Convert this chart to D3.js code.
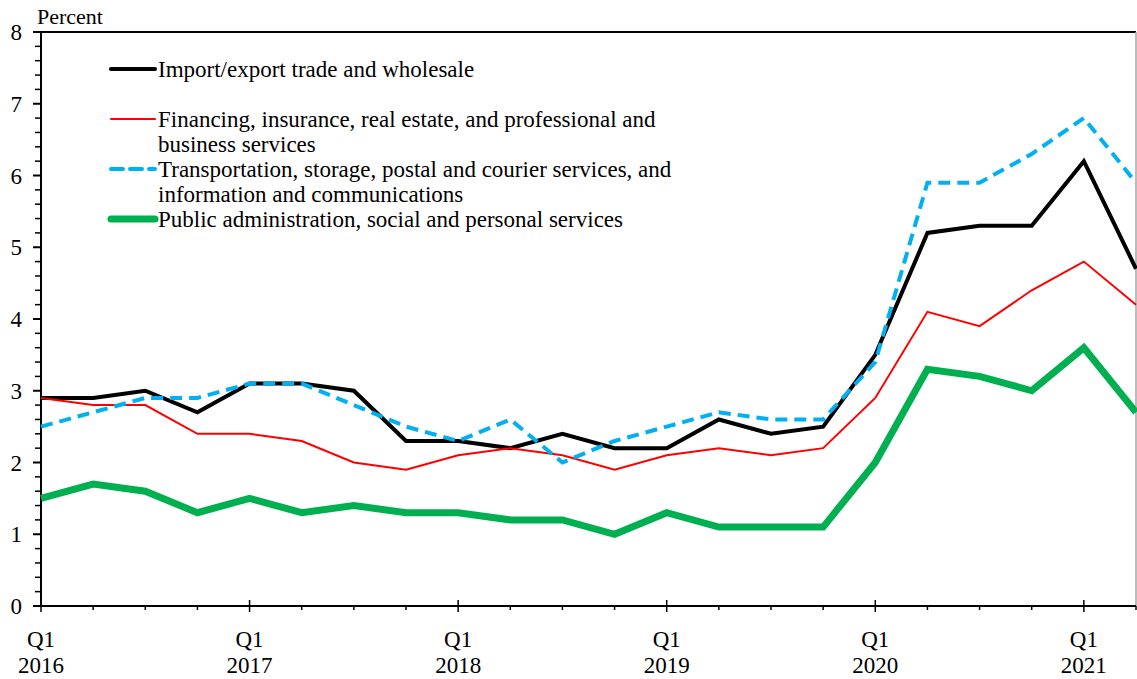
<!DOCTYPE html>
<html>
<head>
<meta charset="utf-8">
<script src="https://cdn.jsdelivr.net/npm/d3@7"></script>
<style>
  html, body { margin: 0; padding: 0; background: #fff; }
  svg { display: block; }
  text { font-family: "Liberation Serif", "Times New Roman", serif; fill: #000; }
</style>
</head>
<body>
<svg id="chart" width="1137" height="679"></svg>
<script>
// Quarterly periods, Q1 2016 to Q2 2021
const quarters = [
  "2016Q1","2016Q2","2016Q3","2016Q4",
  "2017Q1","2017Q2","2017Q3","2017Q4",
  "2018Q1","2018Q2","2018Q3","2018Q4",
  "2019Q1","2019Q2","2019Q3","2019Q4",
  "2020Q1","2020Q2","2020Q3","2020Q4",
  "2021Q1","2021Q2"
];

// Series values, percent
const importExport = [2.9, 2.9, 3.0, 2.7, 3.1, 3.1, 3.0, 2.3, 2.3, 2.2, 2.4, 2.2, 2.2, 2.6, 2.4, 2.5, 3.5, 5.2, 5.3, 5.3, 6.2, 4.7];
const financing    = [2.9, 2.8, 2.8, 2.4, 2.4, 2.3, 2.0, 1.9, 2.1, 2.2, 2.1, 1.9, 2.1, 2.2, 2.1, 2.2, 2.9, 4.1, 3.9, 4.4, 4.8, 4.2];
const transport    = [2.5, 2.7, 2.9, 2.9, 3.1, 3.1, 2.8, 2.5, 2.3, 2.6, 2.0, 2.3, 2.5, 2.7, 2.6, 2.6, 3.4, 5.9, 5.9, 6.3, 6.8, 5.9];
const publicAdmin  = [1.5, 1.7, 1.6, 1.3, 1.5, 1.3, 1.4, 1.3, 1.3, 1.2, 1.2, 1.0, 1.3, 1.1, 1.1, 1.1, 2.0, 3.3, 3.2, 3.0, 3.6, 2.7];

// Axis tick labels
const yTickValues = [0, 1, 2, 3, 4, 5, 6, 7, 8];
const xTickQuarters = ["2016Q1","2017Q1","2018Q1","2019Q1","2020Q1","2021Q1"];
const xTickLabels = [["Q1","2016"],["Q1","2017"],["Q1","2018"],["Q1","2019"],["Q1","2020"],["Q1","2021"]];

const seriesNames = [
  ["Import/export trade and wholesale"],
  ["Financing, insurance, real estate, and professional and", "business services"],
  ["Transportation, storage, postal and courier services, and", "information and communications"],
  ["Public administration, social and personal services"]
];

const styles = [
  { color: "#000000", width: 4,   dash: null },
  { color: "#ff0000", width: 2,   dash: null },
  { color: "#00b0f0", width: 4,   dash: "12,7" },
  { color: "#00b050", width: 7,   dash: null }
];
const seriesData = [importExport, financing, transport, publicAdmin];

const svg = d3.select("#chart");
const plotLeft = 41, plotRight = 1136, plotTop = 32, plotBottom = 606;
const fontSize = "23px";

const x = d3.scalePoint().domain(quarters).range([plotLeft, plotRight]);
const y = d3.scaleLinear().domain([0, 8]).range([plotBottom, plotTop]);

// Frame: top and right edges
svg.append("line").attr("x1", plotLeft).attr("x2", plotRight).attr("y1", plotTop).attr("y2", plotTop)
  .attr("stroke", "#000").attr("stroke-width", 2);
svg.append("line").attr("x1", plotRight).attr("x2", plotRight).attr("y1", plotTop).attr("y2", plotBottom)
  .attr("stroke", "#a6a6a6").attr("stroke-width", 1.5);

// Y axis with minor ticks every 0.2
const yAxisG = svg.append("g");
const minorY = d3.range(0, 8.001, 0.2).filter(v => Math.abs(v - Math.round(v)) > 1e-6);
yAxisG.selectAll("line.minor").data(minorY).join("line")
  .attr("x1", plotLeft - 6).attr("x2", plotLeft).attr("y1", d => y(d)).attr("y2", d => y(d))
  .attr("stroke", "#000").attr("stroke-width", 1.5);
yAxisG.selectAll("line.major").data(yTickValues).join("line")
  .attr("x1", plotLeft - 8).attr("x2", plotLeft).attr("y1", d => y(d)).attr("y2", d => y(d))
  .attr("stroke", "#000").attr("stroke-width", 2);
yAxisG.append("line").attr("x1", plotLeft).attr("x2", plotLeft).attr("y1", plotTop - 1).attr("y2", plotBottom + 1)
  .attr("stroke", "#000").attr("stroke-width", 2);
yAxisG.selectAll("text").data(yTickValues).join("text")
  .attr("x", 22).attr("y", d => y(d) + 8)
  .attr("text-anchor", "end").style("font-size", fontSize)
  .text(d => d);

svg.append("text").attr("x", 37).attr("y", 24).style("font-size", "22px").text("Percent");

// X axis
const xAxisG = svg.append("g");
xAxisG.append("line").attr("x1", plotLeft - 1).attr("x2", plotRight).attr("y1", plotBottom).attr("y2", plotBottom)
  .attr("stroke", "#000").attr("stroke-width", 2);
xAxisG.selectAll("line.tick").data(quarters).join("line")
  .attr("x1", d => x(d)).attr("x2", d => x(d))
  .attr("y1", d => xTickQuarters.includes(d) ? plotBottom - 6 : plotBottom)
  .attr("y2", d => xTickQuarters.includes(d) ? plotBottom + 6 : plotBottom + 4)
  .attr("stroke", "#000").attr("stroke-width", 1.5);
const xLab = xAxisG.selectAll("g.lab").data(xTickQuarters).join("g")
  .attr("transform", d => `translate(${x(d)},0)`);
xLab.append("text").attr("y", 647).attr("text-anchor", "middle").style("font-size", fontSize)
  .text((d, i) => xTickLabels[i][0]);
xLab.append("text").attr("y", 673).attr("text-anchor", "middle").style("font-size", fontSize)
  .text((d, i) => xTickLabels[i][1]);

// Lines
const line = d3.line().x((d, i) => x(quarters[i])).y(d => y(d));
const drawOrder = [3, 0, 1, 2];
drawOrder.forEach(k => {
  svg.append("path").datum(seriesData[k])
    .attr("d", line)
    .attr("fill", "none")
    .attr("stroke", styles[k].color)
    .attr("stroke-width", styles[k].width)
    .attr("stroke-dasharray", styles[k].dash)
    .attr("stroke-linejoin", "miter");
});

// Legend
const legendRows = [69, 119, 169, 219];
const legend = svg.append("g");
seriesNames.forEach((lines, k) => {
  const ly = legendRows[k];
  legend.append("line").attr("x1", 111).attr("x2", 155).attr("y1", ly).attr("y2", ly)
    .attr("stroke", styles[k].color).attr("stroke-width", styles[k].width)
    .attr("stroke-dasharray", styles[k].dash).attr("stroke-linecap", "round");
  lines.forEach((t, j) => {
    legend.append("text").attr("x", 158).attr("y", ly + 8 + j * 25)
      .style("font-size", fontSize).text(t);
  });
});
</script>
</body>
</html>
